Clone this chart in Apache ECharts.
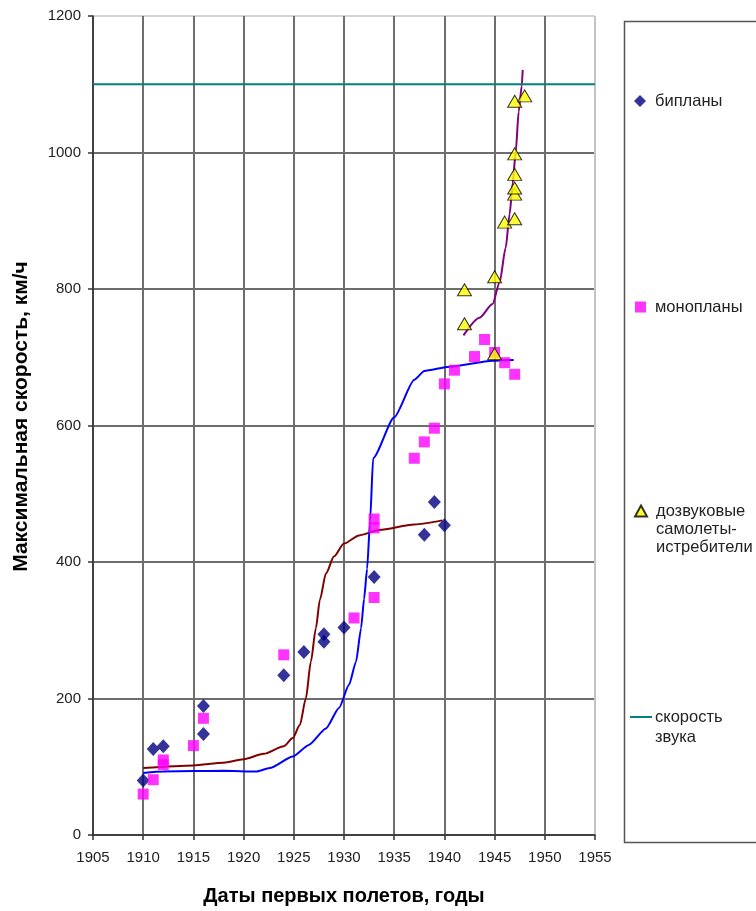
<!DOCTYPE html>
<html>
<head>
<meta charset="utf-8">
<script src="https://cdn.jsdelivr.net/npm/echarts@6/dist/echarts.min.js"></script>
<style>
  html, body { margin: 0; padding: 0; background: #fff; }
  #chart { width: 756px; height: 911px; }
</style>
</head>
<body>
<div id="chart"></div>
<script>
// Бипланы: год первого полёта и максимальная скорость, км/ч
const biplaneYears = [1910, 1911, 1912, 1916, 1916, 1924, 1926, 1928, 1928, 1930, 1933, 1938, 1939, 1940];
const biplaneSpeeds = [80, 126, 130, 148, 189, 234, 268, 294, 283, 304, 378, 440, 488, 454];

// Монопланы
const monoplaneYears = [1910, 1911, 1912, 1912, 1915, 1916, 1924, 1931, 1933, 1933, 1933, 1937, 1938, 1939, 1940, 1941, 1943, 1944, 1945, 1946, 1947];
const monoplaneSpeeds = [60, 81, 110, 103, 131, 171, 264, 318, 348, 463, 450, 552, 576, 596, 661, 681, 701, 726, 707, 692, 675];

// Дозвуковые самолёты-истребители
const fighterYears = [1942, 1942, 1945, 1945, 1946, 1947, 1947, 1947, 1947, 1947, 1947, 1948];
const fighterSpeeds = [749, 799, 818, 705, 898, 903, 939, 948, 968, 998, 1075, 1083];

// Скорость звука
const soundYears = [1905, 1955];
const soundSpeeds = [1100, 1100];

// Линии тренда
const biplaneTrendYears = [1910, 1915, 1918, 1920, 1922, 1924, 1924.9, 1925.6, 1926.2, 1926.7, 1927.2, 1927.6, 1928.2, 1929, 1930, 1931.5, 1933.5, 1937, 1939.8];
const biplaneTrendSpeeds = [98, 102, 106, 111, 119, 130, 142, 161, 200, 254, 303, 345, 383, 408, 427, 439, 447, 455, 461];

const monoplaneTrendYears = [1910, 1912, 1915, 1918, 1921.3, 1922.6, 1924.9, 1926.5, 1928.2, 1929.5, 1930.5, 1931.2, 1931.7, 1932, 1932.3, 1932.6, 1932.9, 1935, 1937, 1938, 1940.5, 1944.8, 1946.9];
const monoplaneTrendSpeeds = [91, 93, 93.6, 94, 93, 98, 115, 132, 156, 186, 220, 254, 303, 346, 390, 460, 552, 612, 667, 680, 686, 695, 696];

const fighterTrendYears = [1941.9, 1943.5, 1944.8, 1945.5, 1946.1, 1946.5, 1946.8, 1947.1, 1947.4, 1947.7, 1947.8];
const fighterTrendSpeeds = [732, 758, 778, 810, 860, 910, 955, 1000, 1060, 1097, 1121];

// Подписи осей
const xMin = 1905, xMax = 1955, xStep = 5;
const yMin = 0, yMax = 1200, yStep = 200;

const zip = (xs, ys) => xs.map((x, i) => [x, ys[i]]);

const FONT = '"Liberation Sans", Arial, sans-serif';
const chart = echarts.init(document.getElementById('chart'), null, { renderer: 'canvas' });

const xSplitColors = [];
for (let v = xMin; v <= xMax; v += xStep) xSplitColors.push(v === xMax ? '#c4c4c4' : '#6e6e6e');
const ySplitColors = [];
for (let v = yMin; v <= yMax; v += yStep) ySplitColors.push(v === yMax ? '#c4c4c4' : '#3c3c3c');

// Подпись легенды: пустые строки сверху, чтобы значок стоял напротив первой строки
const legendText = { fontFamily: FONT, fontSize: 16.5, color: '#222', lineHeight: 18, padding: [0, 0, 0, 4] };
const legendBase = { padding: 0, selectedMode: false };

chart.setOption({
  animation: false,
  backgroundColor: '#fff',
  grid: { left: 93, right: 161, top: 16, bottom: 74, containLabel: false },
  xAxis: {
    type: 'value', min: xMin, max: xMax, interval: xStep,
    name: 'Даты первых полетов, годы', nameLocation: 'middle', nameGap: 51,
    nameTextStyle: { fontFamily: FONT, fontSize: 20, fontWeight: 'bold', color: '#000' },
    axisLine: { show: true, onZero: false, lineStyle: { color: '#333', width: 1.5 } },
    axisTick: { show: true, length: 5, lineStyle: { color: '#333', width: 1.5 } },
    axisLabel: { fontFamily: FONT, fontSize: 15, color: '#222', margin: 15, formatter: v => String(v) },
    splitLine: { show: true, lineStyle: { color: xSplitColors, width: 2 } }
  },
  yAxis: {
    type: 'value', min: yMin, max: yMax, interval: yStep,
    name: 'Максимальная скорость, км/ч', nameLocation: 'middle', nameGap: 61,
    nameTextStyle: { fontFamily: FONT, fontSize: 21, fontWeight: 'bold', color: '#000', padding: [0, 0, 0, 18] },
    axisLine: { show: true, onZero: false, lineStyle: { color: '#333', width: 1.5 } },
    axisTick: { show: true, length: 5, lineStyle: { color: '#333', width: 1.5 } },
    axisLabel: { fontFamily: FONT, fontSize: 15, color: '#222', margin: 12, formatter: v => String(v) },
    splitLine: { show: true, lineStyle: { color: ySplitColors, width: 1.5 } }
  },
  legend: [
    Object.assign({}, legendBase, { data: ['бипланы'], left: 634, top: 92, itemWidth: 12, itemHeight: 12, textStyle: legendText }),
    Object.assign({}, legendBase, { data: ['монопланы'], left: 635, top: 298, itemWidth: 11, itemHeight: 11, textStyle: legendText }),
    Object.assign({}, legendBase, { data: ['дозвуковые\nсамолеты-\nистребители'], left: 634, top: 466,
      itemWidth: 12, itemHeight: 11, formatter: name => '\n\n' + name, textStyle: legendText }),
    Object.assign({}, legendBase, { data: [{ name: 'скорость\nзвука', icon: 'rect' }], left: 630, top: 687,
      itemWidth: 22, itemHeight: 2, formatter: name => '\n' + name,
      textStyle: Object.assign({}, legendText, { lineHeight: 20, padding: [0, 0, 0, -2] }) })
  ],
  graphic: [
    { type: 'rect', left: 622, top: 19, shape: { width: 150, height: 821 }, style: { fill: 'none', stroke: '#555', lineWidth: 1.5 }, z: 0, silent: true }
  ],
  series: [
    {
      name: 'тренд-бипланы', type: 'line', data: zip(biplaneTrendYears, biplaneTrendSpeeds),
      showSymbol: false, symbol: 'none', smooth: 0.25, smoothMonotone: 'x',
      lineStyle: { color: '#800000', width: 2 }, z: 2, silent: true
    },
    {
      name: 'тренд-монопланы', type: 'line', data: zip(monoplaneTrendYears, monoplaneTrendSpeeds),
      showSymbol: false, symbol: 'none', smooth: 0.2, smoothMonotone: 'x',
      lineStyle: { color: '#0000ff', width: 2 }, z: 2, silent: true
    },
    {
      name: 'тренд-истребители', type: 'line', data: zip(fighterTrendYears, fighterTrendSpeeds),
      showSymbol: false, symbol: 'none', smooth: 0.25, smoothMonotone: 'x',
      lineStyle: { color: '#800080', width: 2 }, z: 2, silent: true
    },
    {
      name: 'скорость\nзвука', type: 'line', data: zip(soundYears, soundSpeeds),
      showSymbol: false, symbol: 'none',
      lineStyle: { color: '#008080', width: 2 }, itemStyle: { color: '#008080' }, z: 2, silent: true
    },
    {
      name: 'бипланы', type: 'scatter', data: zip(biplaneYears, biplaneSpeeds),
      symbol: 'diamond', symbolSize: [13, 14],
      itemStyle: { color: '#000080' }, z: 3
    },
    {
      name: 'монопланы', type: 'scatter', data: zip(monoplaneYears, monoplaneSpeeds),
      symbol: 'rect', symbolSize: 11,
      itemStyle: { color: '#ff00ff' }, z: 3
    },
    {
      name: 'дозвуковые\nсамолеты-\nистребители', type: 'scatter', data: zip(fighterYears, fighterSpeeds),
      symbol: 'triangle', symbolSize: [14, 12],
      itemStyle: { color: '#ffff00', borderColor: '#000', borderWidth: 1 }, z: 4
    }
  ]
});
</script>
</body>
</html>
